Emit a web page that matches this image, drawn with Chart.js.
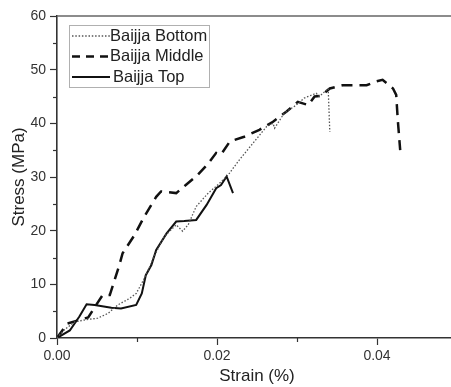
<!DOCTYPE html>
<html>
<head>
<meta charset="utf-8">
<script src="https://cdn.jsdelivr.net/npm/chart.js@4/dist/chart.umd.min.js"></script>
<style>
html,body{margin:0;padding:0;background:#fff;overflow:hidden;}
#wrap{width:451px;height:387px;position:relative;overflow:hidden;}
</style>
</head>
<body>
<div id="wrap"><canvas id="c" width="457" height="387"></canvas></div>
<script>
const seriesLabels = ["Baijja Bottom", "Baijja Middle", "Baijja Top"];

const bottomStrain = [0, 0.0009, 0.0022, 0.0034, 0.0051, 0.0064, 0.0076, 0.0091, 0.0099, 0.0107, 0.0116, 0.012, 0.0134, 0.0149, 0.0157, 0.0164, 0.0174, 0.0189, 0.0203, 0.0214, 0.0228, 0.0245, 0.0262, 0.027, 0.0272, 0.0284, 0.0299, 0.0309, 0.0324, 0.0328, 0.0339, 0.0341];
const bottomStress = [0, 1.5, 3.0, 3.35, 3.7, 4.6, 6.15, 7.4, 8.3, 10.5, 13.3, 14.8, 18.9, 21.1, 19.9, 21.1, 24.5, 27.0, 28.8, 30.4, 33.2, 36.3, 39.4, 40.0, 39.1, 41.9, 43.4, 44.7, 45.6, 45.0, 46.5, 38.4];

const middleStrain = [0, 0.0013, 0.0039, 0.0057, 0.0066, 0.007, 0.0078, 0.0082, 0.0097, 0.0109, 0.0124, 0.013, 0.0149, 0.0161, 0.0176, 0.0189, 0.0199, 0.0205, 0.0216, 0.0234, 0.0253, 0.027, 0.0287, 0.0301, 0.0314, 0.0322, 0.033, 0.0341, 0.0357, 0.0374, 0.0387, 0.0399, 0.0407, 0.042, 0.0424, 0.0426, 0.0429];
const middleStress = [0, 2.7, 3.85, 8.0, 8.0, 9.9, 13.6, 15.8, 19.2, 22.6, 26.3, 27.3, 27.0, 28.5, 30.4, 32.5, 34.5, 34.2, 36.6, 37.5, 38.8, 40.3, 42.2, 44.0, 43.4, 45.0, 45.1, 46.5, 47.1, 47.1, 47.1, 47.8, 48.1, 46.5, 45.3, 40.6, 35.0];

const topStrain = [0, 0.0016, 0.0028, 0.0037, 0.0047, 0.0068, 0.008, 0.0099, 0.0106, 0.0111, 0.0118, 0.0124, 0.0137, 0.0149, 0.0159, 0.0174, 0.0187, 0.0199, 0.0205, 0.0212, 0.022];
const topStress = [0, 1.4, 4.0, 6.3, 6.15, 5.65, 5.5, 6.15, 8.3, 11.7, 13.6, 16.4, 19.5, 21.7, 21.8, 22.0, 24.8, 27.9, 28.5, 30.1, 27.0];

const xMajorTicks = [0, 0.02, 0.04];
const xMinorTicks = [0.01, 0.03];
const yMajorTicks = [0, 10, 20, 30, 40, 50, 60];
const yMinorTicks = [5, 15, 25, 35, 45, 55];

const toPts = (xs, ys) => xs.map((x, i) => ({x: x, y: ys[i]}));

const FONT = "Arial, 'Liberation Sans', sans-serif";
const AXIS = '#333';

const minorTicksPlugin = {
  id: 'minorTicks',
  afterDraw(chart) {
    const ctx = chart.ctx, ca = chart.chartArea;
    const xs = chart.scales.x, ys = chart.scales.y;
    ctx.save();
    ctx.strokeStyle = AXIS;
    ctx.lineWidth = 1.2;
    xMinorTicks.forEach(v => {
      const p = Math.round(xs.getPixelForValue(v)) + 0.5;
      ctx.beginPath(); ctx.moveTo(p, ca.bottom); ctx.lineTo(p, ca.bottom + 4); ctx.stroke();
    });
    yMinorTicks.forEach(v => {
      const p = Math.round(ys.getPixelForValue(v)) + 0.5;
      ctx.beginPath(); ctx.moveTo(ca.left, p); ctx.lineTo(ca.left - 4, p); ctx.stroke();
    });
    ctx.strokeStyle = '#666';
    ctx.lineWidth = 1.5;
    ctx.beginPath(); ctx.moveTo(ca.left, ca.top); ctx.lineTo(ca.right, ca.top); ctx.stroke();
    ctx.restore();
  }
};

const legendPlugin = {
  id: 'boxLegend',
  afterDraw(chart) {
    const ctx = chart.ctx;
    const bx = 69.5, by = 25.5, bw = 140, bh = 62;
    ctx.save();
    ctx.fillStyle = '#fff';
    ctx.fillRect(bx, by, bw, bh);
    ctx.strokeStyle = '#b0b0b0';
    ctx.lineWidth = 1;
    ctx.strokeRect(bx, by, bw, bh);
    const rows = [36, 56.5, 77];
    chart.data.datasets.forEach((ds, i) => {
      const y = rows[i];
      ctx.save();
      ctx.strokeStyle = ds.borderColor;
      ctx.lineWidth = ds.borderWidth;
      ctx.setLineDash(i === 1 ? [8, 6] : (ds.borderDash || []));
      ctx.beginPath(); ctx.moveTo(72, y); ctx.lineTo(110, y); ctx.stroke();
      ctx.restore();
      ctx.fillStyle = '#222';
      ctx.font = "16.5px " + FONT;
      ctx.textBaseline = 'middle';
      ctx.fillText(ds.label, i === 2 ? 113 : 110, y);
    });
    ctx.restore();
  }
};

new Chart(document.getElementById('c'), {
  type: 'line',
  data: {
    datasets: [
      {label: seriesLabels[0], data: toPts(bottomStrain, bottomStress), borderColor: '#555', borderWidth: 1.3, borderDash: [1.5, 1.8]},
      {label: seriesLabels[1], data: toPts(middleStrain, middleStress), borderColor: '#111', borderWidth: 2.5, borderDash: [11, 7]},
      {label: seriesLabels[2], data: toPts(topStrain, topStress), borderColor: '#111', borderWidth: 2.0, borderDash: []}
    ]
  },
  options: {
    responsive: false,
    animation: false,
    devicePixelRatio: 1,
    layout: {padding: {top: 16, right: 0, left: 0, bottom: 0}},
    elements: {point: {radius: 0}, line: {tension: 0, fill: false}},
    plugins: {legend: {display: false}, tooltip: {enabled: false}},
    scales: {
      x: {
        type: 'linear', min: 0, max: 0.05,
        afterBuildTicks: s => { s.ticks = xMajorTicks.map(v => ({value: v})); },
        afterFit: s => { s.height = 49; },
        ticks: {color: '#333', font: {size: 14, family: FONT}, padding: 3, maxRotation: 0,
                callback: v => v.toFixed(2)},
        grid: {display: true, drawOnChartArea: false, drawTicks: true, tickLength: 7, color: AXIS, tickWidth: 1.2},
        border: {display: true, color: AXIS, width: 1.6},
        title: {display: true, text: 'Strain (%)', color: '#222', font: {size: 17, family: FONT}, padding: {top: 0, bottom: 0}}
      },
      y: {
        type: 'linear', min: 0, max: 60,
        afterBuildTicks: s => { s.ticks = yMajorTicks.map(v => ({value: v})); },
        afterFit: s => { s.width = 57; },
        ticks: {color: '#333', font: {size: 14, family: FONT}, padding: 4},
        grid: {display: true, drawOnChartArea: false, drawTicks: true, tickLength: 7, color: AXIS, tickWidth: 1.2},
        border: {display: true, color: AXIS, width: 1.6},
        title: {display: true, text: 'Stress (MPa)', color: '#222', font: {size: 17, family: FONT}, padding: {top: 9, bottom: 0}}
      }
    }
  },
  plugins: [minorTicksPlugin, legendPlugin]
});
</script>
</body>
</html>
